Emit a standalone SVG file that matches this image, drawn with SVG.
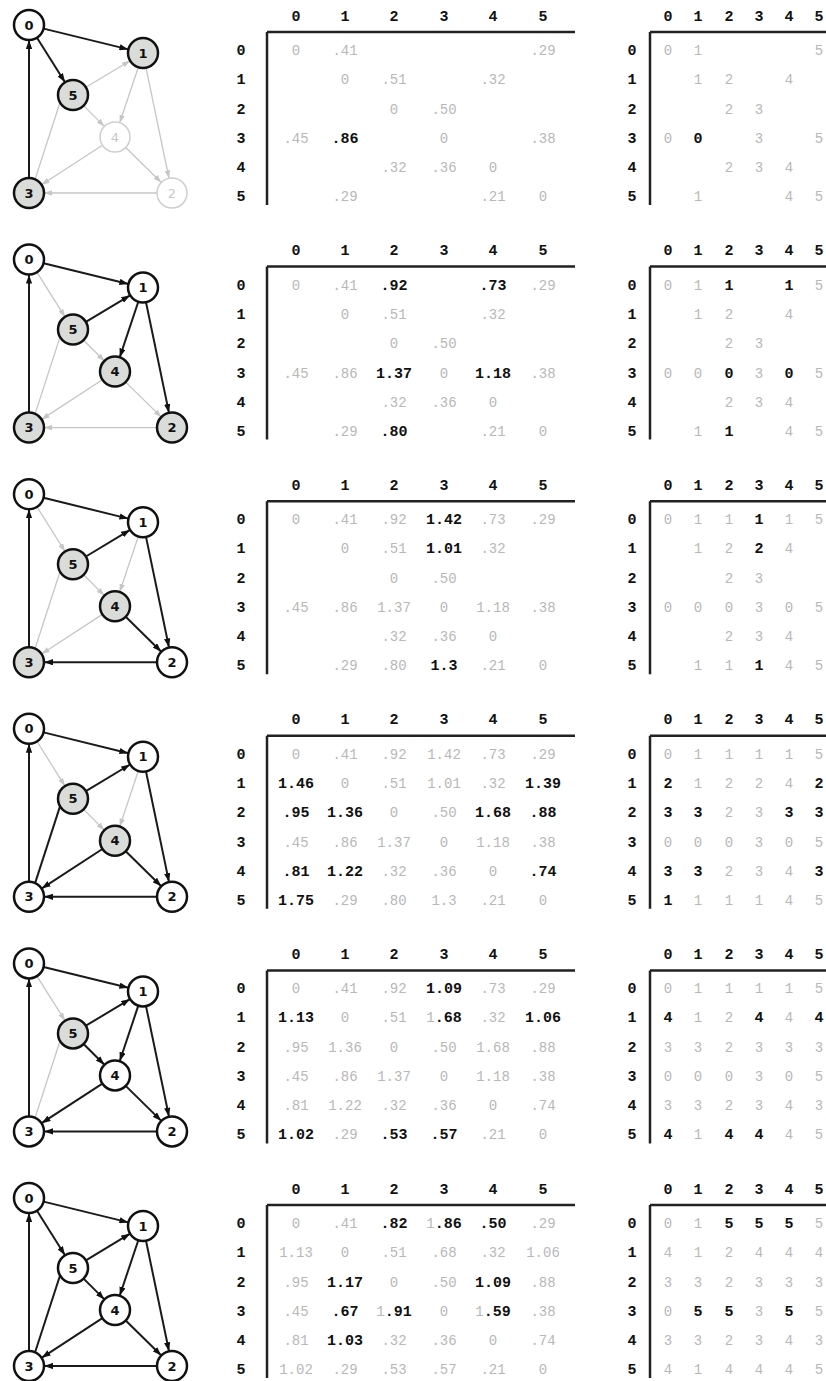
<svg xmlns="http://www.w3.org/2000/svg" width="826" height="1381" viewBox="0 0 826 1381">
<defs>
<style>
.eb{stroke:#1a1a1a;stroke-width:2;fill:none;marker-end:url(#ab)}
.eg{stroke:#c6c6c6;stroke-width:1.3;fill:none;marker-end:url(#ag)}
.nw{fill:#fff;stroke:#111;stroke-width:2.5}
.ng{fill:#d9dcd9;stroke:#111;stroke-width:2.5}
.nf{fill:#fff;stroke:#cfcfcf;stroke-width:1.5}
.nl{font-family:"DejaVu Sans",sans-serif;font-weight:bold;font-size:13px;fill:#111;text-anchor:middle}
.nlf{font-family:"DejaVu Sans",sans-serif;font-size:13px;fill:#c8c8c8;text-anchor:middle}
.ax{stroke:#222;stroke-width:2.5;fill:none}
.h{font-family:"Liberation Mono",monospace;font-weight:bold;font-size:15px;fill:#111;text-anchor:middle}
.b{font-family:"Liberation Mono",monospace;font-weight:bold;font-size:15px;fill:#111;text-anchor:middle}
.g{font-family:"Liberation Mono",monospace;font-size:14px;fill:#b8b8b8;text-anchor:middle}
.gt{font-weight:normal;font-size:14px;fill:#b8b8b8}
</style>
<marker id="ab" viewBox="0 0 10 7" refX="10" refY="3.5" markerWidth="9" markerHeight="6.3" markerUnits="userSpaceOnUse" orient="auto"><path d="M0,0 L10,3.5 L0,7 z" fill="#111"/></marker>
<marker id="ag" viewBox="0 0 10 7" refX="10" refY="3.5" markerWidth="8" markerHeight="5.6" markerUnits="userSpaceOnUse" orient="auto"><path d="M0,0 L10,3.5 L0,7 z" fill="#c6c6c6"/></marker>
</defs>

<!-- ===== Block 1 ===== -->
<g id="block1">
<g id="edges1">
<path class="eg" d="M85.9,87.3 L130.1,60.7"/>
<path class="eg" d="M138.3,67.2 L119.7,122.8"/>
<path class="eg" d="M146,67.7 L169,178.3"/>
<path class="eg" d="M83.6,105.6 L104.4,126.4"/>
<path class="eg" d="M102.4,145.2 L41.6,184.8"/>
<path class="eg" d="M125.7,147.5 L161.3,182.5"/>
<path class="eg" d="M157,193 L44,193"/>
<path class="eg" d="M35.1,179.3 L66.9,81.3"/>
<path class="eb" d="M43.6,28.6 L128.4,49.4"/>
<path class="eb" d="M37,37.7 L65,82.3"/>
<path class="eb" d="M29,178 L29,40"/>
</g>
<g id="b1-node0"><circle class="nw" cx="29" cy="25" r="15"/><text class="nl" x="29" y="29.5">0</text></g>
<g id="b1-node1"><circle class="ng" cx="143" cy="53" r="15"/><text class="nl" x="143" y="57.5">1</text></g>
<g id="b1-node5"><circle class="ng" cx="73" cy="95" r="15"/><text class="nl" x="73" y="99.5">5</text></g>
<g id="b1-node4"><circle class="nf" cx="115" cy="137" r="15"/><text class="nlf" x="115" y="141.5">4</text></g>
<g id="b1-node3"><circle class="ng" cx="29" cy="193" r="15"/><text class="nl" x="29" y="197.5">3</text></g>
<g id="b1-node2"><circle class="nf" cx="172" cy="193" r="15"/><text class="nlf" x="172" y="197.5">2</text></g>
<g id="dist1">
<path class="ax" d="M267,32 H575 M267,32 V205"/>
<text class="h" y="20.5"><tspan x="296">0</tspan><tspan x="345">1</tspan><tspan x="394">2</tspan><tspan x="444">3</tspan><tspan x="493">4</tspan><tspan x="543">5</tspan></text>
<text class="h"><tspan x="241" y="55">0</tspan><tspan x="241" y="84">1</tspan><tspan x="241" y="113.5">2</tspan><tspan x="241" y="143">3</tspan><tspan x="241" y="172">4</tspan><tspan x="241" y="201">5</tspan></text>
<text class="g" y="55"><tspan x="296">0</tspan><tspan x="345">.41</tspan><tspan x="543">.29</tspan></text>
<text class="g" y="84"><tspan x="345">0</tspan><tspan x="394">.51</tspan><tspan x="493">.32</tspan></text>
<text class="g" y="113.5"><tspan x="394">0</tspan><tspan x="444">.50</tspan></text>
<text class="g" y="143"><tspan x="296">.45</tspan><tspan x="444">0</tspan><tspan x="543">.38</tspan></text>
<text class="b" y="143" x="345">.86</text>
<text class="g" y="172"><tspan x="394">.32</tspan><tspan x="444">.36</tspan><tspan x="493">0</tspan></text>
<text class="g" y="201"><tspan x="345">.29</tspan><tspan x="493">.21</tspan><tspan x="543">0</tspan></text>
</g>
<g id="next1">
<path class="ax" d="M650,32 H826 M650,32 V205"/>
<text class="h" y="20.5"><tspan x="668">0</tspan><tspan x="698">1</tspan><tspan x="729">2</tspan><tspan x="759">3</tspan><tspan x="789">4</tspan><tspan x="819">5</tspan></text>
<text class="h"><tspan x="632" y="55">0</tspan><tspan x="632" y="84">1</tspan><tspan x="632" y="113.5">2</tspan><tspan x="632" y="143">3</tspan><tspan x="632" y="172">4</tspan><tspan x="632" y="201">5</tspan></text>
<text class="g" y="55"><tspan x="668">0</tspan><tspan x="698">1</tspan><tspan x="819">5</tspan></text>
<text class="g" y="84"><tspan x="698">1</tspan><tspan x="729">2</tspan><tspan x="789">4</tspan></text>
<text class="g" y="113.5"><tspan x="729">2</tspan><tspan x="759">3</tspan></text>
<text class="g" y="143"><tspan x="668">0</tspan><tspan x="759">3</tspan><tspan x="819">5</tspan></text>
<text class="b" y="143" x="698">0</text>
<text class="g" y="172"><tspan x="729">2</tspan><tspan x="759">3</tspan><tspan x="789">4</tspan></text>
<text class="g" y="201"><tspan x="698">1</tspan><tspan x="789">4</tspan><tspan x="819">5</tspan></text>
</g>
</g>

<!-- ===== Block 2 ===== -->
<g id="block2" transform="translate(0,234.6)">
<g id="edges2">
<path class="eg" d="M37,37.7 L65,82.3"/>
<path class="eg" d="M83.6,105.6 L104.4,126.4"/>
<path class="eg" d="M102.4,145.2 L41.6,184.8"/>
<path class="eg" d="M125.7,147.5 L161.3,182.5"/>
<path class="eg" d="M157,193 L44,193"/>
<path class="eg" d="M35.1,179.3 L66.9,81.3"/>
<path class="eb" d="M43.6,28.6 L128.4,49.4"/>
<path class="eb" d="M85.9,87.3 L130.1,60.7"/>
<path class="eb" d="M138.3,67.2 L119.7,122.8"/>
<path class="eb" d="M146,67.7 L169,178.3"/>
<path class="eb" d="M29,178 L29,40"/>
</g>
<g id="b2-node0"><circle class="nw" cx="29" cy="25" r="15"/><text class="nl" x="29" y="29.5">0</text></g>
<g id="b2-node1"><circle class="nw" cx="143" cy="53" r="15"/><text class="nl" x="143" y="57.5">1</text></g>
<g id="b2-node5"><circle class="ng" cx="73" cy="95" r="15"/><text class="nl" x="73" y="99.5">5</text></g>
<g id="b2-node4"><circle class="ng" cx="115" cy="137" r="15"/><text class="nl" x="115" y="141.5">4</text></g>
<g id="b2-node3"><circle class="ng" cx="29" cy="193" r="15"/><text class="nl" x="29" y="197.5">3</text></g>
<g id="b2-node2"><circle class="ng" cx="172" cy="193" r="15"/><text class="nl" x="172" y="197.5">2</text></g>
<g id="dist2">
<path class="ax" d="M267,32 H575 M267,32 V205"/>
<text class="h" y="20.5"><tspan x="296">0</tspan><tspan x="345">1</tspan><tspan x="394">2</tspan><tspan x="444">3</tspan><tspan x="493">4</tspan><tspan x="543">5</tspan></text>
<text class="h"><tspan x="241" y="55">0</tspan><tspan x="241" y="84">1</tspan><tspan x="241" y="113.5">2</tspan><tspan x="241" y="143">3</tspan><tspan x="241" y="172">4</tspan><tspan x="241" y="201">5</tspan></text>
<text class="g" y="55"><tspan x="296">0</tspan><tspan x="345">.41</tspan><tspan x="543">.29</tspan></text>
<text class="b" y="55"><tspan x="394">.92</tspan><tspan x="493">.73</tspan></text>
<text class="g" y="84"><tspan x="345">0</tspan><tspan x="394">.51</tspan><tspan x="493">.32</tspan></text>
<text class="g" y="113.5"><tspan x="394">0</tspan><tspan x="444">.50</tspan></text>
<text class="g" y="143"><tspan x="296">.45</tspan><tspan x="345">.86</tspan><tspan x="444">0</tspan><tspan x="543">.38</tspan></text>
<text class="b" y="143"><tspan x="394">1.37</tspan><tspan x="493">1.18</tspan></text>
<text class="g" y="172"><tspan x="394">.32</tspan><tspan x="444">.36</tspan><tspan x="493">0</tspan></text>
<text class="g" y="201"><tspan x="345">.29</tspan><tspan x="493">.21</tspan><tspan x="543">0</tspan></text>
<text class="b" y="201" x="394">.80</text>
</g>
<g id="next2">
<path class="ax" d="M650,32 H826 M650,32 V205"/>
<text class="h" y="20.5"><tspan x="668">0</tspan><tspan x="698">1</tspan><tspan x="729">2</tspan><tspan x="759">3</tspan><tspan x="789">4</tspan><tspan x="819">5</tspan></text>
<text class="h"><tspan x="632" y="55">0</tspan><tspan x="632" y="84">1</tspan><tspan x="632" y="113.5">2</tspan><tspan x="632" y="143">3</tspan><tspan x="632" y="172">4</tspan><tspan x="632" y="201">5</tspan></text>
<text class="g" y="55"><tspan x="668">0</tspan><tspan x="698">1</tspan><tspan x="819">5</tspan></text>
<text class="b" y="55"><tspan x="729">1</tspan><tspan x="789">1</tspan></text>
<text class="g" y="84"><tspan x="698">1</tspan><tspan x="729">2</tspan><tspan x="789">4</tspan></text>
<text class="g" y="113.5"><tspan x="729">2</tspan><tspan x="759">3</tspan></text>
<text class="g" y="143"><tspan x="668">0</tspan><tspan x="698">0</tspan><tspan x="759">3</tspan><tspan x="819">5</tspan></text>
<text class="b" y="143"><tspan x="729">0</tspan><tspan x="789">0</tspan></text>
<text class="g" y="172"><tspan x="729">2</tspan><tspan x="759">3</tspan><tspan x="789">4</tspan></text>
<text class="g" y="201"><tspan x="698">1</tspan><tspan x="789">4</tspan><tspan x="819">5</tspan></text>
<text class="b" y="201" x="729">1</text>
</g>
</g>

<!-- ===== Block 3 ===== -->
<g id="block3" transform="translate(0,469.2)">
<g id="edges3">
<path class="eg" d="M37,37.7 L65,82.3"/>
<path class="eg" d="M138.3,67.2 L119.7,122.8"/>
<path class="eg" d="M83.6,105.6 L104.4,126.4"/>
<path class="eg" d="M102.4,145.2 L41.6,184.8"/>
<path class="eg" d="M35.1,179.3 L66.9,81.3"/>
<path class="eb" d="M43.6,28.6 L128.4,49.4"/>
<path class="eb" d="M85.9,87.3 L130.1,60.7"/>
<path class="eb" d="M146,67.7 L169,178.3"/>
<path class="eb" d="M125.7,147.5 L161.3,182.5"/>
<path class="eb" d="M157,193 L44,193"/>
<path class="eb" d="M29,178 L29,40"/>
</g>
<g id="b3-node0"><circle class="nw" cx="29" cy="25" r="15"/><text class="nl" x="29" y="29.5">0</text></g>
<g id="b3-node1"><circle class="nw" cx="143" cy="53" r="15"/><text class="nl" x="143" y="57.5">1</text></g>
<g id="b3-node5"><circle class="ng" cx="73" cy="95" r="15"/><text class="nl" x="73" y="99.5">5</text></g>
<g id="b3-node4"><circle class="ng" cx="115" cy="137" r="15"/><text class="nl" x="115" y="141.5">4</text></g>
<g id="b3-node3"><circle class="ng" cx="29" cy="193" r="15"/><text class="nl" x="29" y="197.5">3</text></g>
<g id="b3-node2"><circle class="nw" cx="172" cy="193" r="15"/><text class="nl" x="172" y="197.5">2</text></g>
<g id="dist3">
<path class="ax" d="M267,32 H575 M267,32 V205"/>
<text class="h" y="20.5"><tspan x="296">0</tspan><tspan x="345">1</tspan><tspan x="394">2</tspan><tspan x="444">3</tspan><tspan x="493">4</tspan><tspan x="543">5</tspan></text>
<text class="h"><tspan x="241" y="55">0</tspan><tspan x="241" y="84">1</tspan><tspan x="241" y="113.5">2</tspan><tspan x="241" y="143">3</tspan><tspan x="241" y="172">4</tspan><tspan x="241" y="201">5</tspan></text>
<text class="g" y="55"><tspan x="296">0</tspan><tspan x="345">.41</tspan><tspan x="394">.92</tspan><tspan x="493">.73</tspan><tspan x="543">.29</tspan></text>
<text class="b" y="55" x="444">1.42</text>
<text class="g" y="84"><tspan x="345">0</tspan><tspan x="394">.51</tspan><tspan x="493">.32</tspan></text>
<text class="b" y="84" x="444">1.01</text>
<text class="g" y="113.5"><tspan x="394">0</tspan><tspan x="444">.50</tspan></text>
<text class="g" y="143"><tspan x="296">.45</tspan><tspan x="345">.86</tspan><tspan x="394">1.37</tspan><tspan x="444">0</tspan><tspan x="493">1.18</tspan><tspan x="543">.38</tspan></text>
<text class="g" y="172"><tspan x="394">.32</tspan><tspan x="444">.36</tspan><tspan x="493">0</tspan></text>
<text class="g" y="201"><tspan x="345">.29</tspan><tspan x="394">.80</tspan><tspan x="493">.21</tspan><tspan x="543">0</tspan></text>
<text class="b" y="201" x="444">1.3</text>
</g>
<g id="next3">
<path class="ax" d="M650,32 H826 M650,32 V205"/>
<text class="h" y="20.5"><tspan x="668">0</tspan><tspan x="698">1</tspan><tspan x="729">2</tspan><tspan x="759">3</tspan><tspan x="789">4</tspan><tspan x="819">5</tspan></text>
<text class="h"><tspan x="632" y="55">0</tspan><tspan x="632" y="84">1</tspan><tspan x="632" y="113.5">2</tspan><tspan x="632" y="143">3</tspan><tspan x="632" y="172">4</tspan><tspan x="632" y="201">5</tspan></text>
<text class="g" y="55"><tspan x="668">0</tspan><tspan x="698">1</tspan><tspan x="729">1</tspan><tspan x="789">1</tspan><tspan x="819">5</tspan></text>
<text class="b" y="55" x="759">1</text>
<text class="g" y="84"><tspan x="698">1</tspan><tspan x="729">2</tspan><tspan x="789">4</tspan></text>
<text class="b" y="84" x="759">2</text>
<text class="g" y="113.5"><tspan x="729">2</tspan><tspan x="759">3</tspan></text>
<text class="g" y="143"><tspan x="668">0</tspan><tspan x="698">0</tspan><tspan x="729">0</tspan><tspan x="759">3</tspan><tspan x="789">0</tspan><tspan x="819">5</tspan></text>
<text class="g" y="172"><tspan x="729">2</tspan><tspan x="759">3</tspan><tspan x="789">4</tspan></text>
<text class="g" y="201"><tspan x="698">1</tspan><tspan x="729">1</tspan><tspan x="789">4</tspan><tspan x="819">5</tspan></text>
<text class="b" y="201" x="759">1</text>
</g>
</g>

<!-- ===== Block 4 ===== -->
<g id="block4" transform="translate(0,703.8)">
<g id="edges4">
<path class="eg" d="M37,37.7 L65,82.3"/>
<path class="eg" d="M138.3,67.2 L119.7,122.8"/>
<path class="eg" d="M83.6,105.6 L104.4,126.4"/>
<path class="eb" d="M43.6,28.6 L128.4,49.4"/>
<path class="eb" d="M85.9,87.3 L130.1,60.7"/>
<path class="eb" d="M146,67.7 L169,178.3"/>
<path class="eb" d="M125.7,147.5 L161.3,182.5"/>
<path class="eb" d="M102.4,145.2 L41.6,184.8"/>
<path class="eb" d="M35.1,179.3 L66.9,81.3"/>
<path class="eb" d="M157,193 L44,193"/>
<path class="eb" d="M29,178 L29,40"/>
</g>
<g id="b4-node0"><circle class="nw" cx="29" cy="25" r="15"/><text class="nl" x="29" y="29.5">0</text></g>
<g id="b4-node1"><circle class="nw" cx="143" cy="53" r="15"/><text class="nl" x="143" y="57.5">1</text></g>
<g id="b4-node5"><circle class="ng" cx="73" cy="95" r="15"/><text class="nl" x="73" y="99.5">5</text></g>
<g id="b4-node4"><circle class="ng" cx="115" cy="137" r="15"/><text class="nl" x="115" y="141.5">4</text></g>
<g id="b4-node3"><circle class="nw" cx="29" cy="193" r="15"/><text class="nl" x="29" y="197.5">3</text></g>
<g id="b4-node2"><circle class="nw" cx="172" cy="193" r="15"/><text class="nl" x="172" y="197.5">2</text></g>
<g id="dist4">
<path class="ax" d="M267,32 H575 M267,32 V205"/>
<text class="h" y="20.5"><tspan x="296">0</tspan><tspan x="345">1</tspan><tspan x="394">2</tspan><tspan x="444">3</tspan><tspan x="493">4</tspan><tspan x="543">5</tspan></text>
<text class="h"><tspan x="241" y="55">0</tspan><tspan x="241" y="84">1</tspan><tspan x="241" y="113.5">2</tspan><tspan x="241" y="143">3</tspan><tspan x="241" y="172">4</tspan><tspan x="241" y="201">5</tspan></text>
<text class="g" y="55"><tspan x="296">0</tspan><tspan x="345">.41</tspan><tspan x="394">.92</tspan><tspan x="444">1.42</tspan><tspan x="493">.73</tspan><tspan x="543">.29</tspan></text>
<text class="g" y="84"><tspan x="345">0</tspan><tspan x="394">.51</tspan><tspan x="444">1.01</tspan><tspan x="493">.32</tspan></text>
<text class="b" y="84"><tspan x="296">1.46</tspan><tspan x="543">1.39</tspan></text>
<text class="g" y="113.5"><tspan x="394">0</tspan><tspan x="444">.50</tspan></text>
<text class="b" y="113.5"><tspan x="296">.95</tspan><tspan x="345">1.36</tspan><tspan x="493">1.68</tspan><tspan x="543">.88</tspan></text>
<text class="g" y="143"><tspan x="296">.45</tspan><tspan x="345">.86</tspan><tspan x="394">1.37</tspan><tspan x="444">0</tspan><tspan x="493">1.18</tspan><tspan x="543">.38</tspan></text>
<text class="g" y="172"><tspan x="394">.32</tspan><tspan x="444">.36</tspan><tspan x="493">0</tspan></text>
<text class="b" y="172"><tspan x="296">.81</tspan><tspan x="345">1.22</tspan><tspan x="543">.74</tspan></text>
<text class="g" y="201"><tspan x="345">.29</tspan><tspan x="394">.80</tspan><tspan x="444">1.3</tspan><tspan x="493">.21</tspan><tspan x="543">0</tspan></text>
<text class="b" y="201" x="296">1.75</text>
</g>
<g id="next4">
<path class="ax" d="M650,32 H826 M650,32 V205"/>
<text class="h" y="20.5"><tspan x="668">0</tspan><tspan x="698">1</tspan><tspan x="729">2</tspan><tspan x="759">3</tspan><tspan x="789">4</tspan><tspan x="819">5</tspan></text>
<text class="h"><tspan x="632" y="55">0</tspan><tspan x="632" y="84">1</tspan><tspan x="632" y="113.5">2</tspan><tspan x="632" y="143">3</tspan><tspan x="632" y="172">4</tspan><tspan x="632" y="201">5</tspan></text>
<text class="g" y="55"><tspan x="668">0</tspan><tspan x="698">1</tspan><tspan x="729">1</tspan><tspan x="759">1</tspan><tspan x="789">1</tspan><tspan x="819">5</tspan></text>
<text class="g" y="84"><tspan x="698">1</tspan><tspan x="729">2</tspan><tspan x="759">2</tspan><tspan x="789">4</tspan></text>
<text class="b" y="84"><tspan x="668">2</tspan><tspan x="819">2</tspan></text>
<text class="g" y="113.5"><tspan x="729">2</tspan><tspan x="759">3</tspan></text>
<text class="b" y="113.5"><tspan x="668">3</tspan><tspan x="698">3</tspan><tspan x="789">3</tspan><tspan x="819">3</tspan></text>
<text class="g" y="143"><tspan x="668">0</tspan><tspan x="698">0</tspan><tspan x="729">0</tspan><tspan x="759">3</tspan><tspan x="789">0</tspan><tspan x="819">5</tspan></text>
<text class="g" y="172"><tspan x="729">2</tspan><tspan x="759">3</tspan><tspan x="789">4</tspan></text>
<text class="b" y="172"><tspan x="668">3</tspan><tspan x="698">3</tspan><tspan x="819">3</tspan></text>
<text class="g" y="201"><tspan x="698">1</tspan><tspan x="729">1</tspan><tspan x="759">1</tspan><tspan x="789">4</tspan><tspan x="819">5</tspan></text>
<text class="b" y="201" x="668">1</text>
</g>
</g>

<!-- ===== Block 5 ===== -->
<g id="block5" transform="translate(0,938.4)">
<g id="edges5">
<path class="eg" d="M37,37.7 L65,82.3"/>
<path class="eg" d="M35.1,179.3 L66.9,81.3"/>
<path class="eb" d="M43.6,28.6 L128.4,49.4"/>
<path class="eb" d="M85.9,87.3 L130.1,60.7"/>
<path class="eb" d="M138.3,67.2 L119.7,122.8"/>
<path class="eb" d="M146,67.7 L169,178.3"/>
<path class="eb" d="M83.6,105.6 L104.4,126.4"/>
<path class="eb" d="M102.4,145.2 L41.6,184.8"/>
<path class="eb" d="M125.7,147.5 L161.3,182.5"/>
<path class="eb" d="M157,193 L44,193"/>
<path class="eb" d="M29,178 L29,40"/>
</g>
<g id="b5-node0"><circle class="nw" cx="29" cy="25" r="15"/><text class="nl" x="29" y="29.5">0</text></g>
<g id="b5-node1"><circle class="nw" cx="143" cy="53" r="15"/><text class="nl" x="143" y="57.5">1</text></g>
<g id="b5-node5"><circle class="ng" cx="73" cy="95" r="15"/><text class="nl" x="73" y="99.5">5</text></g>
<g id="b5-node4"><circle class="nw" cx="115" cy="137" r="15"/><text class="nl" x="115" y="141.5">4</text></g>
<g id="b5-node3"><circle class="nw" cx="29" cy="193" r="15"/><text class="nl" x="29" y="197.5">3</text></g>
<g id="b5-node2"><circle class="nw" cx="172" cy="193" r="15"/><text class="nl" x="172" y="197.5">2</text></g>
<g id="dist5">
<path class="ax" d="M267,32 H575 M267,32 V205"/>
<text class="h" y="20.5"><tspan x="296">0</tspan><tspan x="345">1</tspan><tspan x="394">2</tspan><tspan x="444">3</tspan><tspan x="493">4</tspan><tspan x="543">5</tspan></text>
<text class="h"><tspan x="241" y="55">0</tspan><tspan x="241" y="84">1</tspan><tspan x="241" y="113.5">2</tspan><tspan x="241" y="143">3</tspan><tspan x="241" y="172">4</tspan><tspan x="241" y="201">5</tspan></text>
<text class="g" y="55"><tspan x="296">0</tspan><tspan x="345">.41</tspan><tspan x="394">.92</tspan><tspan x="493">.73</tspan><tspan x="543">.29</tspan></text>
<text class="b" y="55" x="444">1.09</text>
<text class="g" y="84"><tspan x="345">0</tspan><tspan x="394">.51</tspan><tspan x="493">.32</tspan></text>
<text class="b" y="84"><tspan x="296">1.13</tspan><tspan x="543">1.06</tspan></text>
<text class="b" y="84" x="444"><tspan class="gt">1</tspan>.68</text>
<text class="g" y="113.5"><tspan x="296">.95</tspan><tspan x="345">1.36</tspan><tspan x="394">0</tspan><tspan x="444">.50</tspan><tspan x="493">1.68</tspan><tspan x="543">.88</tspan></text>
<text class="g" y="143"><tspan x="296">.45</tspan><tspan x="345">.86</tspan><tspan x="394">1.37</tspan><tspan x="444">0</tspan><tspan x="493">1.18</tspan><tspan x="543">.38</tspan></text>
<text class="g" y="172"><tspan x="296">.81</tspan><tspan x="345">1.22</tspan><tspan x="394">.32</tspan><tspan x="444">.36</tspan><tspan x="493">0</tspan><tspan x="543">.74</tspan></text>
<text class="g" y="201"><tspan x="345">.29</tspan><tspan x="493">.21</tspan><tspan x="543">0</tspan></text>
<text class="b" y="201"><tspan x="296">1.02</tspan><tspan x="394">.53</tspan><tspan x="444">.57</tspan></text>
</g>
<g id="next5">
<path class="ax" d="M650,32 H826 M650,32 V205"/>
<text class="h" y="20.5"><tspan x="668">0</tspan><tspan x="698">1</tspan><tspan x="729">2</tspan><tspan x="759">3</tspan><tspan x="789">4</tspan><tspan x="819">5</tspan></text>
<text class="h"><tspan x="632" y="55">0</tspan><tspan x="632" y="84">1</tspan><tspan x="632" y="113.5">2</tspan><tspan x="632" y="143">3</tspan><tspan x="632" y="172">4</tspan><tspan x="632" y="201">5</tspan></text>
<text class="g" y="55"><tspan x="668">0</tspan><tspan x="698">1</tspan><tspan x="729">1</tspan><tspan x="759">1</tspan><tspan x="789">1</tspan><tspan x="819">5</tspan></text>
<text class="g" y="84"><tspan x="698">1</tspan><tspan x="729">2</tspan><tspan x="789">4</tspan></text>
<text class="b" y="84"><tspan x="668">4</tspan><tspan x="759">4</tspan><tspan x="819">4</tspan></text>
<text class="g" y="113.5"><tspan x="668">3</tspan><tspan x="698">3</tspan><tspan x="729">2</tspan><tspan x="759">3</tspan><tspan x="789">3</tspan><tspan x="819">3</tspan></text>
<text class="g" y="143"><tspan x="668">0</tspan><tspan x="698">0</tspan><tspan x="729">0</tspan><tspan x="759">3</tspan><tspan x="789">0</tspan><tspan x="819">5</tspan></text>
<text class="g" y="172"><tspan x="668">3</tspan><tspan x="698">3</tspan><tspan x="729">2</tspan><tspan x="759">3</tspan><tspan x="789">4</tspan><tspan x="819">3</tspan></text>
<text class="g" y="201"><tspan x="698">1</tspan><tspan x="789">4</tspan><tspan x="819">5</tspan></text>
<text class="b" y="201"><tspan x="668">4</tspan><tspan x="729">4</tspan><tspan x="759">4</tspan></text>
</g>
</g>

<!-- ===== Block 6 ===== -->
<g id="block6" transform="translate(0,1173)">
<g id="edges6">
<path class="eb" d="M43.6,28.6 L128.4,49.4"/>
<path class="eb" d="M37,37.7 L65,82.3"/>
<path class="eb" d="M85.9,87.3 L130.1,60.7"/>
<path class="eb" d="M138.3,67.2 L119.7,122.8"/>
<path class="eb" d="M146,67.7 L169,178.3"/>
<path class="eb" d="M83.6,105.6 L104.4,126.4"/>
<path class="eb" d="M102.4,145.2 L41.6,184.8"/>
<path class="eb" d="M125.7,147.5 L161.3,182.5"/>
<path class="eb" d="M157,193 L44,193"/>
<path class="eb" d="M29,178 L29,40"/>
<path class="eb" d="M35.1,179.3 L66.9,81.3"/>
</g>
<g id="b6-node0"><circle class="nw" cx="29" cy="25" r="15"/><text class="nl" x="29" y="29.5">0</text></g>
<g id="b6-node1"><circle class="nw" cx="143" cy="53" r="15"/><text class="nl" x="143" y="57.5">1</text></g>
<g id="b6-node5"><circle class="nw" cx="73" cy="95" r="15"/><text class="nl" x="73" y="99.5">5</text></g>
<g id="b6-node4"><circle class="nw" cx="115" cy="137" r="15"/><text class="nl" x="115" y="141.5">4</text></g>
<g id="b6-node3"><circle class="nw" cx="29" cy="193" r="15"/><text class="nl" x="29" y="197.5">3</text></g>
<g id="b6-node2"><circle class="nw" cx="172" cy="193" r="15"/><text class="nl" x="172" y="197.5">2</text></g>
<g id="dist6">
<path class="ax" d="M267,32 H575 M267,32 V205"/>
<text class="h" y="20.5"><tspan x="296">0</tspan><tspan x="345">1</tspan><tspan x="394">2</tspan><tspan x="444">3</tspan><tspan x="493">4</tspan><tspan x="543">5</tspan></text>
<text class="h"><tspan x="241" y="55">0</tspan><tspan x="241" y="84">1</tspan><tspan x="241" y="113.5">2</tspan><tspan x="241" y="143">3</tspan><tspan x="241" y="172">4</tspan><tspan x="241" y="201">5</tspan></text>
<text class="g" y="55"><tspan x="296">0</tspan><tspan x="345">.41</tspan><tspan x="543">.29</tspan></text>
<text class="b" y="55"><tspan x="394">.82</tspan><tspan x="493">.50</tspan></text>
<text class="b" y="55" x="444"><tspan class="gt">1</tspan>.86</text>
<text class="g" y="84"><tspan x="296">1.13</tspan><tspan x="345">0</tspan><tspan x="394">.51</tspan><tspan x="444">.68</tspan><tspan x="493">.32</tspan><tspan x="543">1.06</tspan></text>
<text class="g" y="113.5"><tspan x="296">.95</tspan><tspan x="394">0</tspan><tspan x="444">.50</tspan><tspan x="543">.88</tspan></text>
<text class="b" y="113.5"><tspan x="345">1.17</tspan><tspan x="493">1.09</tspan></text>
<text class="g" y="143"><tspan x="296">.45</tspan><tspan x="444">0</tspan><tspan x="543">.38</tspan></text>
<text class="b" y="143" x="345">.67</text>
<text class="b" y="143" x="394"><tspan class="gt">1</tspan>.91</text>
<text class="b" y="143" x="493"><tspan class="gt">1</tspan>.59</text>
<text class="g" y="172"><tspan x="296">.81</tspan><tspan x="394">.32</tspan><tspan x="444">.36</tspan><tspan x="493">0</tspan><tspan x="543">.74</tspan></text>
<text class="b" y="172" x="345">1.03</text>
<text class="g" y="201"><tspan x="296">1.02</tspan><tspan x="345">.29</tspan><tspan x="394">.53</tspan><tspan x="444">.57</tspan><tspan x="493">.21</tspan><tspan x="543">0</tspan></text>
</g>
<g id="next6">
<path class="ax" d="M650,32 H826 M650,32 V205"/>
<text class="h" y="20.5"><tspan x="668">0</tspan><tspan x="698">1</tspan><tspan x="729">2</tspan><tspan x="759">3</tspan><tspan x="789">4</tspan><tspan x="819">5</tspan></text>
<text class="h"><tspan x="632" y="55">0</tspan><tspan x="632" y="84">1</tspan><tspan x="632" y="113.5">2</tspan><tspan x="632" y="143">3</tspan><tspan x="632" y="172">4</tspan><tspan x="632" y="201">5</tspan></text>
<text class="g" y="55"><tspan x="668">0</tspan><tspan x="698">1</tspan><tspan x="819">5</tspan></text>
<text class="b" y="55"><tspan x="729">5</tspan><tspan x="759">5</tspan><tspan x="789">5</tspan></text>
<text class="g" y="84"><tspan x="668">4</tspan><tspan x="698">1</tspan><tspan x="729">2</tspan><tspan x="759">4</tspan><tspan x="789">4</tspan><tspan x="819">4</tspan></text>
<text class="g" y="113.5"><tspan x="668">3</tspan><tspan x="698">3</tspan><tspan x="729">2</tspan><tspan x="759">3</tspan><tspan x="789">3</tspan><tspan x="819">3</tspan></text>
<text class="g" y="143"><tspan x="668">0</tspan><tspan x="759">3</tspan><tspan x="819">5</tspan></text>
<text class="b" y="143"><tspan x="698">5</tspan><tspan x="729">5</tspan><tspan x="789">5</tspan></text>
<text class="g" y="172"><tspan x="668">3</tspan><tspan x="698">3</tspan><tspan x="729">2</tspan><tspan x="759">3</tspan><tspan x="789">4</tspan><tspan x="819">3</tspan></text>
<text class="g" y="201"><tspan x="668">4</tspan><tspan x="698">1</tspan><tspan x="729">4</tspan><tspan x="759">4</tspan><tspan x="789">4</tspan><tspan x="819">5</tspan></text>
</g>
</g>
</svg>
